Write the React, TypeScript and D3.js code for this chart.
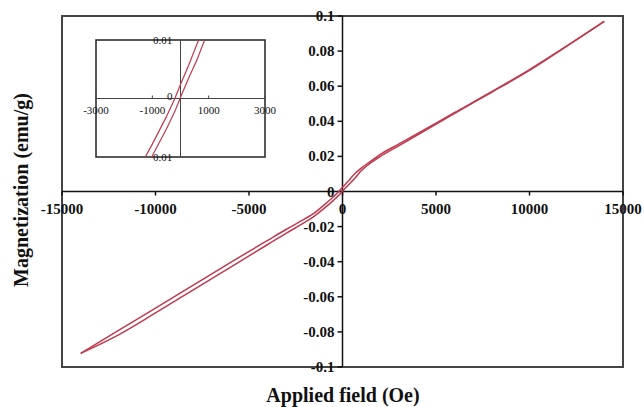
import React from "react";
import * as d3 from "d3";

// Descending branch (upper), field in Oe
const downField = [14000, 12000, 10000, 8000, 6000, 4000, 3000, 2000, 1500, 1000, 600, 300, 0, -200, -500, -1000, -1500, -2000, -3000, -4000, -6000, -8000, -10000, -12000, -14000];
const downMag = [0.097, 0.083, 0.0695, 0.057, 0.045, 0.033, 0.027, 0.021, 0.0172, 0.0133, 0.0095, 0.0058, 0.0024, 0.0, -0.0031, -0.0078, -0.0122, -0.0155, -0.0215, -0.0278, -0.0405, -0.0535, -0.0665, -0.0793, -0.0922];
// Ascending branch (lower)
const upField = [-14000, -12000, -10000, -8000, -6000, -4000, -3000, -2000, -1500, -1000, -500, -200, 0, 300, 600, 1000, 1500, 2000, 3000, 4000, 6000, 8000, 10000, 12000, 14000];
const upMag = [-0.0922, -0.0818, -0.0692, -0.0562, -0.0432, -0.0302, -0.0237, -0.0175, -0.014, -0.0098, -0.0052, -0.0022, 0.0002, 0.0036, 0.0068, 0.0118, 0.0163, 0.0198, 0.026, 0.0322, 0.0445, 0.0567, 0.069, 0.0828, 0.097];

const xTicks = [-15000, -10000, -5000, 0, 5000, 10000, 15000];
const yTicks = [0.1, 0.08, 0.06, 0.04, 0.02, 0, -0.02, -0.04, -0.06, -0.08, -0.1];
const insetXTicks = [-3000, -1000, 1000, 3000];
const insetYLabels = ["0.01", "0", "0.01"];
const insetYValues = [0.01, 0, -0.01];

const LINE = "#bf3a4f";
const FONT = "'Liberation Serif', 'Times New Roman', serif";

export default function App() {
  const x = d3.scaleLinear().domain([-15000, 15000]).range([62, 623]);
  const y = d3.scaleLinear().domain([-0.1, 0.1]).range([367, 16]);
  const ix = d3.scaleLinear().domain([-3000, 3000]).range([96, 265]);
  const iy = d3.scaleLinear().domain([-0.01, 0.01]).range([157, 40]);

  const down = downField.map((f, i) => [f, downMag[i]] as [number, number]);
  const up = upField.map((f, i) => [f, upMag[i]] as [number, number]);

  const line = d3.line<[number, number]>().x((d) => x(d[0])).y((d) => y(d[1])).curve(d3.curveMonotoneX);
  const iline = d3.line<[number, number]>().x((d) => ix(d[0])).y((d) => iy(d[1]));

  const fmt = (v: number) => (v === 0 ? "0" : String(v));

  return (
    <svg width={644} height={407} style={{ position: "fixed", left: 0, top: 0, background: "#fff" }} fontFamily={FONT}>
      <defs>
        <clipPath id="inclip">
          <rect x={96} y={40} width={169} height={117} />
        </clipPath>
      </defs>
      <rect x={0} y={0} width={644} height={407} fill="#fff" />
      {/* frame */}
      <rect x={62} y={16} width={561} height={351} fill="none" stroke="#444" strokeWidth={2} />
      {/* axes */}
      <line x1={62} x2={623} y1={y(0)} y2={y(0)} stroke="#111" strokeWidth={1.5} />
      <line x1={x(0)} x2={x(0)} y1={16} y2={367} stroke="#111" strokeWidth={1.5} />
      {xTicks.map((t) => (
        <g key={"xt" + t}>
          <line x1={x(t)} x2={x(t)} y1={y(0)} y2={y(0) + 4} stroke="#111" strokeWidth={1.5} />
          <text x={x(t)} y={y(0) + 22} textAnchor="middle" fontSize={15} fontWeight="bold" fill="#111">
            {fmt(t)}
          </text>
        </g>
      ))}
      {yTicks.map((t) => (
        <g key={"yt" + t}>
          <line x1={x(0) - 5} x2={x(0)} y1={y(t)} y2={y(t)} stroke="#111" strokeWidth={1.5} />
          <text x={x(0) - 8} y={y(t) + 5} textAnchor="end" fontSize={15} fontWeight="bold" fill="#111">
            {fmt(t)}
          </text>
        </g>
      ))}
      {/* curves */}
      <path d={line(down) || ""} fill="none" stroke={LINE} strokeWidth={1.5} />
      <path d={line(up) || ""} fill="none" stroke={LINE} strokeWidth={1.5} />

      {/* inset */}
      <rect x={96} y={40} width={169} height={117} fill="#fff" stroke="#222" strokeWidth={1.5} />
      <line x1={96} x2={265} y1={iy(0)} y2={iy(0)} stroke="#444" strokeWidth={1} />
      <line x1={ix(0)} x2={ix(0)} y1={40} y2={157} stroke="#444" strokeWidth={1} />
      {insetXTicks.map((t) => (
        <g key={"ixt" + t}>
          <line x1={ix(t)} x2={ix(t)} y1={iy(0) - 3} y2={iy(0)} stroke="#444" strokeWidth={1} />
          <text x={ix(t)} y={iy(0) + 15} textAnchor="middle" fontSize={11} fill="#111">
            {fmt(t)}
          </text>
        </g>
      ))}
      {insetYValues.map((v, i) => (
        <text key={"iyl" + i} x={v === 0 ? ix(0) - 8 : ix(0) - 18} y={v === 0 ? iy(v) + 1 : iy(v) + 4} textAnchor={v === 0 ? "end" : "middle"} fontSize={11} fill="#111">
          {insetYLabels[i]}
        </text>
      ))}
      <g clipPath="url(#inclip)">
        <path d={iline(down) || ""} fill="none" stroke={LINE} strokeWidth={1.2} />
        <path d={iline(up) || ""} fill="none" stroke={LINE} strokeWidth={1.2} />
      </g>

      {/* titles */}
      <text x={343} y={402} textAnchor="middle" fontSize={20} fontWeight="bold" fill="#111">
        Applied field (Oe)
      </text>
      <text transform="translate(28,190) rotate(-90)" textAnchor="middle" fontSize={20} fontWeight="bold" fill="#111">
        Magnetization (emu/g)
      </text>
    </svg>
  );
}
